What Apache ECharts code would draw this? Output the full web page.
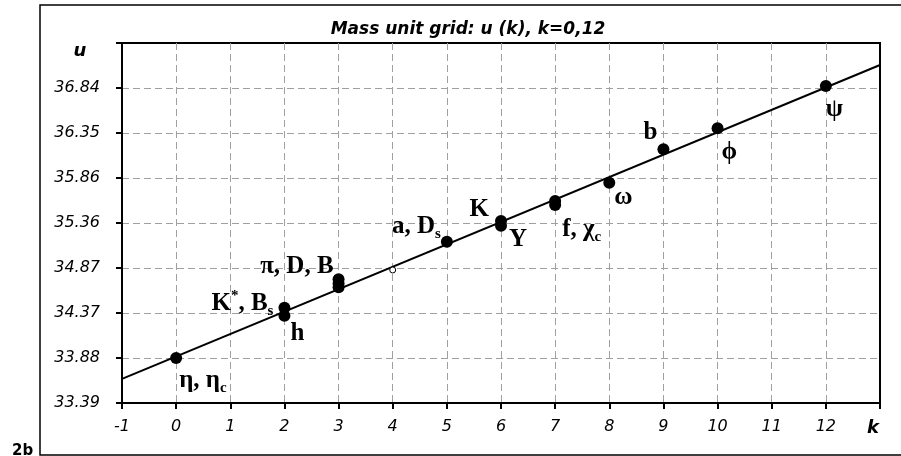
<!DOCTYPE html>
<html lang="en">
  <head>
    <meta charset="UTF-8" />
    <meta name="viewport" content="width=device-width, initial-scale=1.0" />
    <script src="https://cdn.jsdelivr.net/npm/echarts@6/dist/echarts.min.js"></script>
    <title>Mass unit grid</title>
    <style>
      html, body { margin: 0; padding: 0; background: #fff; }
    </style>
  </head>
  <body>
    <div id="main" style="width: 901px; height: 456px"></div>
    <script>
      // measured points (k, u)
      const kVals = [0, 2, 2, 3, 3, 3, 5, 6, 6, 7, 7, 8, 9, 10, 12];
      const uVals = [33.883, 34.434, 34.346, 34.745, 34.70, 34.657, 35.157, 35.383, 35.332, 35.602, 35.559, 35.803, 36.169, 36.399, 36.862];
      const pointNames = ["η, η_c", "K^*, B_s", "h", "π, D, B", "", "", "a, D_s", "K", "Y", "", "f, χ_c", "ω", "b", "ϕ", "ψ"];
      // open marker
      const openK = [4];
      const openU = [34.847];
      // fitted line ends
      const lineK = [-1, 13];
      const lineU = [33.655, 37.092];
      // axis labels
      const yTicks = ["33.39", "33.88", "34.37", "34.87", "35.36", "35.86", "36.35", "36.84", ""];
      const yMin = 33.39;
      const yStep = 0.4929;

      // label placement, offset from the marker centre: [dx, dy, align]
      const labelPlace = {
        0: [3, 23, "left"],
        1: [-11, -4, "right"],
        2: [6, 18, "left"],
        3: [-5, -13, "right"],
        6: [-6, -15, "right"],
        7: [-12, -11, "right"],
        8: [8, 14, "left"],
        10: [7, 25, "left"],
        11: [5, 15, "left"],
        12: [-6, -17, "right"],
        13: [4, 24, "left"],
        14: [0, 24, "left"],
      };

      // "K^*, B_s" -> rich text tokens
      function toRich(s) {
        let out = "";
        let buf = "";
        for (let i = 0; i < s.length; i++) {
          const c = s[i];
          if ((c === "_" || c === "^") && i + 1 < s.length) {
            if (buf) out += "{t|" + buf + "}";
            buf = "";
            out += (c === "_" ? "{s|" : "{p|") + s[i + 1] + "}";
            i++;
          } else {
            buf += c;
          }
        }
        if (buf) out += "{t|" + buf + "}";
        return out;
      }

      const serif = "Liberation Serif";
      const richStyles = {
        t: { fontFamily: serif, fontWeight: "bold", fontSize: 25, color: "#000", lineHeight: 30 },
        s: { fontFamily: serif, fontWeight: "bold", fontSize: 15, color: "#000", lineHeight: 14, verticalAlign: "bottom" },
        p: { fontFamily: serif, fontWeight: "bold", fontSize: 15, color: "#000", lineHeight: 15, verticalAlign: "top" },
      };

      const half = 6;
      const pts = kVals.map((k, i) => {
        const item = { value: [k, uVals[i]] };
        const pl = labelPlace[i];
        if (pointNames[i] && pl) {
          item.label = {
            show: true,
            formatter: toRich(pointNames[i]),
            position: [pl[0] + half, pl[1] + half],
            align: pl[2],
            verticalAlign: "middle",
            rich: richStyles,
          };
        }
        return item;
      });

      const sans = "DejaVu Sans";
      const axisFont = {
        fontFamily: sans,
        fontStyle: "italic",
        fontSize: 16,
        color: "#000",
      };
      const gridLine = {
        show: true,
        showMinLine: false,
        showMaxLine: false,
        lineStyle: { color: "#a0a0a0", type: [7, 4], width: 1 },
      };

      const myChart = echarts.init(document.getElementById("main"));
      myChart.setOption({
        animation: false,
        backgroundColor: "#fff",
        grid: {
          left: 122,
          top: 43,
          right: 21,
          bottom: 53,
          show: true,
          borderColor: "#000",
          borderWidth: 2,
        },
        xAxis: {
          type: "value",
          min: -1,
          max: 13,
          interval: 1,
          axisLine: { show: true, onZero: false, lineStyle: { color: "#000", width: 2 } },
          axisTick: { show: true, length: 6, lineStyle: { color: "#000", width: 2 } },
          axisLabel: Object.assign({}, axisFont, {
            margin: 16,
            formatter: (v) => (v === 13 ? "{k|k}" : String(v)),
            rich: {
              k: { fontFamily: sans, fontWeight: "bold", fontStyle: "italic", fontSize: 18, color: "#000", padding: [0, 14, 0, 0] },
            },
          }),
          splitLine: gridLine,
        },
        yAxis: {
          type: "value",
          min: yMin,
          max: yMin + 8 * yStep,
          interval: yStep,
          axisLine: { show: true, onZero: false, lineStyle: { color: "#000", width: 2 } },
          axisTick: { show: true, length: 6, lineStyle: { color: "#000", width: 2 } },
          axisLabel: Object.assign({}, axisFont, {
            margin: 22,
            formatter: (v) => yTicks[Math.round((v - yMin) / yStep)] || "",
          }),
          splitLine: gridLine,
        },
        graphic: [
          {
            type: "rect",
            shape: { x: 40, y: 5, width: 880, height: 450 },
            style: { fill: "none", stroke: "#000", lineWidth: 1.5 },
            silent: true,
          },
          {
            type: "text",
            x: 468,
            y: 30,
            style: {
              text: "Mass unit grid: u (k), k=0,12",
              font: "italic bold 17px 'DejaVu Sans'",
              fill: "#000",
              align: "center",
              verticalAlign: "middle",
            },
          },
          {
            type: "text",
            x: 80,
            y: 51,
            style: {
              text: "u",
              font: "italic bold 18px 'DejaVu Sans'",
              fill: "#000",
              align: "center",
              verticalAlign: "middle",
            },
          },
          {
            type: "text",
            x: 12,
            y: 451,
            style: {
              text: "2b",
              font: "bold 15px 'DejaVu Sans'",
              fill: "#000",
              align: "left",
              verticalAlign: "middle",
            },
          },
        ],
        series: [
          {
            type: "line",
            data: lineK.map((k, i) => [k, lineU[i]]),
            symbol: "none",
            lineStyle: { color: "#000", width: 2 },
            z: 2,
          },
          {
            type: "scatter",
            data: pts,
            symbol: "circle",
            symbolSize: 12,
            itemStyle: { color: "#000", opacity: 1 },
            z: 3,
          },
          {
            type: "scatter",
            data: openK.map((k, i) => [k, openU[i]]),
            symbol: "circle",
            symbolSize: 6,
            itemStyle: { color: "#fff", borderColor: "#000", borderWidth: 1, opacity: 1 },
            z: 4,
          },
        ],
      });
    </script>
  </body>
</html>
